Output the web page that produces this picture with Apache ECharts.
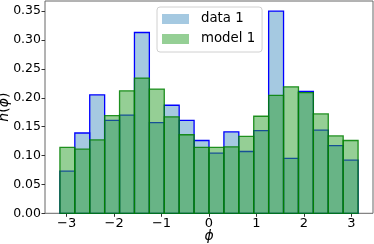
<!DOCTYPE html>
<html>
<head>
<meta charset="utf-8">
<script src="https://cdn.jsdelivr.net/npm/echarts@6/dist/echarts.min.js"></script>
<style>html,body{margin:0;padding:0;background:#fff}#c{width:374px;height:244px}</style>
</head>
<body>
<div id="c"></div>
<script>
// 20 bins spanning [-pi, pi]
const binCount = 20;
const binLo = -Math.PI, binHi = Math.PI;
const data1 = [0.073, 0.139, 0.205, 0.161, 0.170, 0.313, 0.157, 0.187, 0.161, 0.126,
               0.104, 0.141, 0.107, 0.143, 0.350, 0.095, 0.211, 0.144, 0.117, 0.092];
const model1 = [0.114, 0.111, 0.127, 0.169, 0.212, 0.234, 0.215, 0.167, 0.136, 0.114,
                0.114, 0.115, 0.133, 0.168, 0.204, 0.219, 0.209, 0.172, 0.134, 0.126];
const xTicks = [-3, -2, -1, 0, 1, 2, 3];
const yTicks = [0, 0.05, 0.10, 0.15, 0.20, 0.25, 0.30, 0.35];
const seriesNames = ['data 1', 'model 1'];

const w = (binHi - binLo) / binCount;
function toRows(vals) {
  return vals.map((v, i) => [binLo + i * w, binLo + (i + 1) * w, v]);
}
const xPad = (binHi - binLo) * 0.05;
const yMax = Math.max(...data1, ...model1) * 1.05;

function makeRender(fill, stroke) {
  return function (params, api) {
    const p0 = api.coord([api.value(0), api.value(2)]);
    const p1 = api.coord([api.value(1), 0]);
    return {
      type: 'rect',
      shape: { x: p0[0], y: p0[1], width: p1[0] - p0[0], height: p1[1] - p0[1] },
      style: { fill: fill, stroke: stroke, lineWidth: 1.3 }
    };
  };
}

const font = 'DejaVu Sans';
const chart = echarts.init(document.getElementById('c'), null, { renderer: 'canvas' });
chart.setOption({
  animation: false,
  backgroundColor: '#fff',
  grid: { left: 45, right: 1, top: 1, bottom: 30.7, containLabel: false, outerBoundsMode: 'none',
    show: true, borderColor: '#666', borderWidth: 1, backgroundColor: 'transparent' },
  legend: {
    orient: 'vertical', left: 157, top: 7,
    data: seriesNames,
    itemWidth: 27, itemHeight: 10, itemGap: 4,
    padding: [4, 7, 5, 5],
    backgroundColor: 'rgba(255,255,255,0.8)', borderColor: '#d0d0d0', borderWidth: 1, borderRadius: 3,
    textStyle: { fontFamily: font, fontSize: 13.3, color: '#000', lineHeight: 16, padding: [0, 0, 0, 7] },
    itemStyle: { borderWidth: 0 },
    icon: 'rect'
  },
  xAxis: {
    type: 'value', min: binLo - xPad, max: binHi + xPad,
    name: 'ϕ', nameLocation: 'middle', nameGap: 16, nameMoveOverlap: false,
    nameTextStyle: { fontFamily: font, fontSize: 14, fontStyle: 'italic', color: '#000' },
    axisLine: { show: false, onZero: false },
    splitLine: { show: false },
    axisTick: { show: true, length: 3.5, lineStyle: { color: '#333' }, customValues: xTicks },
    axisLabel: { fontFamily: font, fontSize: 13, color: '#000', margin: 4, customValues: xTicks,
      formatter: v => (v < 0 ? '\u2212' + Math.abs(v) : String(v)) }
  },
  yAxis: {
    type: 'value', min: 0, max: yMax,
    name: '{i|h}(' + '{i|ϕ})', nameLocation: 'middle', nameGap: 34, nameRotate: 90, nameMoveOverlap: false,
    nameTextStyle: { fontFamily: font, fontSize: 14, color: '#000',
      rich: { i: { fontFamily: font, fontSize: 14, fontStyle: 'italic', color: '#000' } } },
    axisLine: { show: false, onZero: false },
    splitLine: { show: false },
    axisTick: { show: true, length: 3.5, lineStyle: { color: '#333' }, customValues: yTicks },
    axisLabel: { fontFamily: font, fontSize: 12.5, color: '#000', margin: 4, customValues: yTicks,
      formatter: v => v.toFixed(2) }
  },
  series: [
    {
      name: seriesNames[0], type: 'custom',
      itemStyle: { color: 'rgba(31,119,180,0.4)' },
      encode: { x: [0, 1], y: 2 },
      renderItem: makeRender('rgba(31,119,180,0.4)', '#0000ff'),
      data: toRows(data1), z: 2
    },
    {
      name: seriesNames[1], type: 'custom',
      itemStyle: { color: 'rgba(44,160,44,0.5)' },
      encode: { x: [0, 1], y: 2 },
      renderItem: makeRender('rgba(44,160,44,0.5)', 'rgba(0,128,0,0.85)'),
      data: toRows(model1), z: 3
    }
  ]
});
</script>
</body>
</html>
